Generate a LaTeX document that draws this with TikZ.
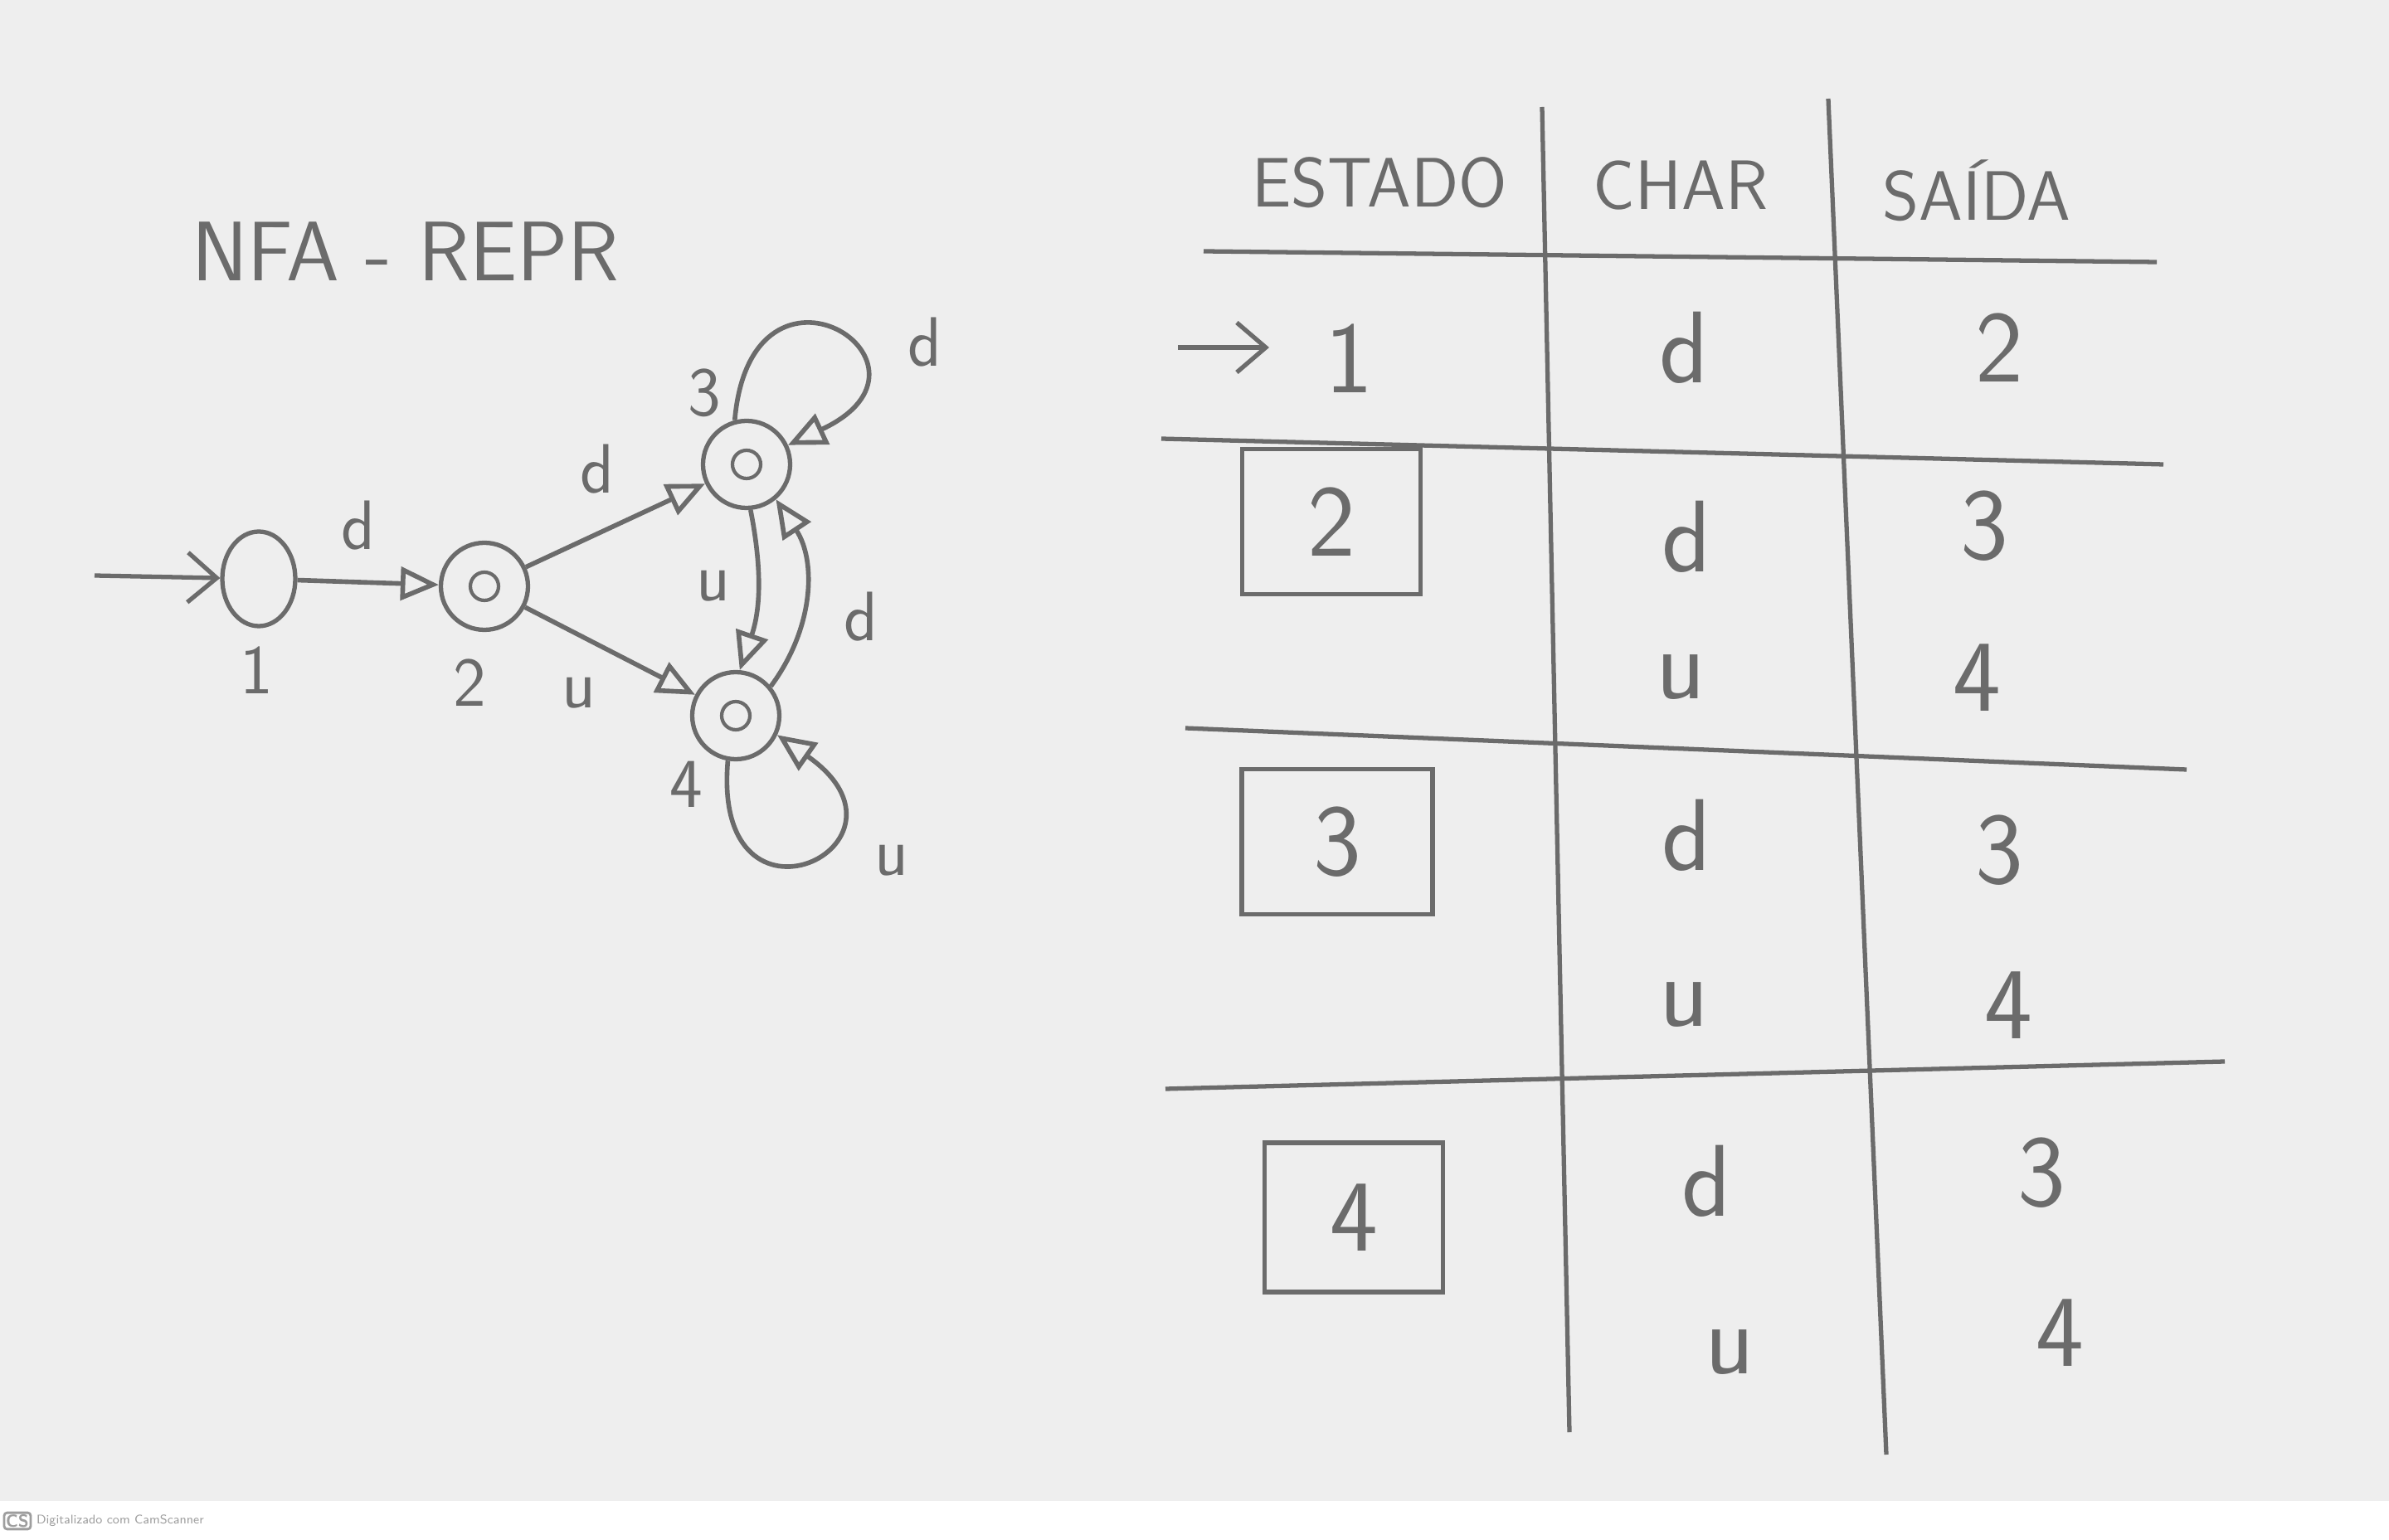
\documentclass[tikz,border=0pt]{standalone}
\usepackage{tikz}
\usetikzlibrary{arrows.meta, positioning, shapes.geometric}
\definecolor{pencil}{gray}{0.42}
\definecolor{paper}{gray}{0.935}
\definecolor{scanmark}{gray}{0.62}

\tikzset{
  state/.style={circle, draw=pencil, line width=1.5pt, minimum size=1.05cm, inner sep=0pt,
    path picture={\draw[pencil, line width=1.2pt] (path picture bounding box.center) circle (0.17);}},
  startstate/.style={ellipse, draw=pencil, line width=1.5pt, minimum width=0.88cm, minimum height=1.14cm, inner sep=0pt},
  edge/.style={draw=pencil, line width=1.6pt, -{Triangle[open, length=4.6mm, width=4mm]}},
  initedge/.style={draw=pencil, line width=1.5pt, -{Straight Barb[length=3.5mm, width=6mm]}},
  small/.style={text=pencil, font=\sffamily\fontsize{24}{24}\selectfont},
  big/.style={text=pencil, font=\sffamily\fontsize{35}{35}\selectfont},
  rule/.style={draw=pencil, line width=1.5pt},
  statebox/.style={big, draw=pencil, line width=1.5pt, minimum width=2.15cm, minimum height=1.75cm}
}

\begin{document}
\begin{tikzpicture}[x=1cm, y=1cm]
    % paper
    \fill[paper] (0,0) rectangle (28.8,-18.1);
    \fill[white] (0,-18.1) rectangle (28.8,-18.57);
    \useasboundingbox (0,0) rectangle (28.8,-18.57);

    % title
    \node[text=pencil, font=\sffamily\fontsize{29}{29}\selectfont] (title) at (4.89,-3.03) {NFA - REPR};

    % automaton
    \node[startstate] (s1) at (3.12,-6.98) {};
    \node[state] (s2) at (5.84,-7.07) {};
    \node[state] (s3) at (9.00,-5.60) {};
    \node[state] (s4) at (8.87,-8.63) {};
    \coordinate (init) at (1.14,-6.94);

    \node[small] (n1) at (3.09,-8.08) {1};
    \node[small] (n2) at (5.66,-8.23) {2};
    \node[small] (n3) at (8.49,-4.74) {3};
    \node[small] (n4) at (8.27,-9.46) {4};

    \draw[initedge] (init) -- (s1);
    \draw[edge] (s1) -- (s2);
    \draw[edge] (s2) -- (s3);
    \draw[edge] (s2) -- (s4);
    \draw[edge] (s3.-85) to[bend left=15] (s4.85);
    \draw[edge] (s4.40) to[bend right=35] (s3.-50);
    \draw[edge] (s3.105) to[out=85, in=25, distance=2.3cm] (s3.25);
    \draw[edge] (s4.-100) to[out=-95, in=-35, distance=2.3cm] (s4.-25);

    \node[small] (e12) at (4.32,-6.34) {d};
    \node[small] (e23) at (7.20,-5.66) {d};
    \node[small] (e24) at (6.98,-8.36) {u};
    \node[small] (e34) at (8.60,-7.07) {u};
    \node[small] (e43) at (10.38,-7.44) {d};
    \node[small] (e33) at (11.15,-4.13) {d};
    \node[small] (e44) at (10.75,-10.38) {u};

    % table rules
    \draw[rule] (18.59,-1.29) -- (18.92,-17.27);
    \draw[rule] (22.04,-1.19) -- (22.74,-17.54);
    \draw[rule] (14.51,-3.03) -- (26.00,-3.16);
    \draw[rule] (14.00,-5.29) -- (26.08,-5.60);
    \draw[rule] (14.29,-8.78) -- (26.36,-9.28);
    \draw[rule] (14.05,-13.13) -- (26.82,-12.80);

    % header
    \node[small] (hstate) at (16.63,-2.20) {ESTADO};
    \node[small] (hchar) at (20.26,-2.24) {CHAR};
    \node[small] (hout) at (23.83,-2.30) {SAÍDA};

    % rows
    \node[big] (r1) at (16.26,-4.32) {1};
    \coordinate (r1in) at (14.20,-4.19);
    \coordinate (r1tip) at (15.30,-4.19);
    \draw[initedge] (r1in) -- (r1tip);
    \node[big] (r1c) at (20.30,-4.19) {d};
    \node[big] (r1o) at (24.10,-4.19) {2};

    \node[statebox] (r2) at (16.05,-6.29) {2};
    \node[big] (r2c1) at (20.33,-6.47) {d};
    \node[big] (r2o1) at (23.92,-6.34) {3};
    \node[big] (r2c2) at (20.26,-8.17) {u};
    \node[big] (r2o2) at (23.83,-8.17) {4};

    \node[statebox, minimum width=2.3cm] (r3) at (16.12,-10.15) {3};
    \node[big] (r3c1) at (20.33,-10.07) {d};
    \node[big] (r3o1) at (24.10,-10.25) {3};
    \node[big] (r3c2) at (20.30,-12.12) {u};
    \node[big] (r3o2) at (24.21,-12.12) {4};

    \node[statebox, minimum height=1.8cm] (r4) at (16.32,-14.68) {4};
    \node[big] (r4c1) at (20.57,-14.24) {d};
    \node[big] (r4o1) at (24.61,-14.14) {3};
    \node[big] (r4c2) at (20.85,-16.31) {u};
    \node[big] (r4o2) at (24.83,-16.07) {4};

    % scanner mark
    \node[draw=scanmark, fill=white, line width=0.8pt, rounded corners=1pt, inner sep=0.6pt,
      text=scanmark, font=\sffamily\bfseries\fontsize{6}{6}\selectfont] (cs) at (0.21,-18.34) {CS};
    \node[right=0.5mm of cs, inner sep=0pt, text=scanmark, font=\sffamily\fontsize{4.3}{4.3}\selectfont] (scan) {Digitalizado com CamScanner};
\end{tikzpicture}
\end{document}
